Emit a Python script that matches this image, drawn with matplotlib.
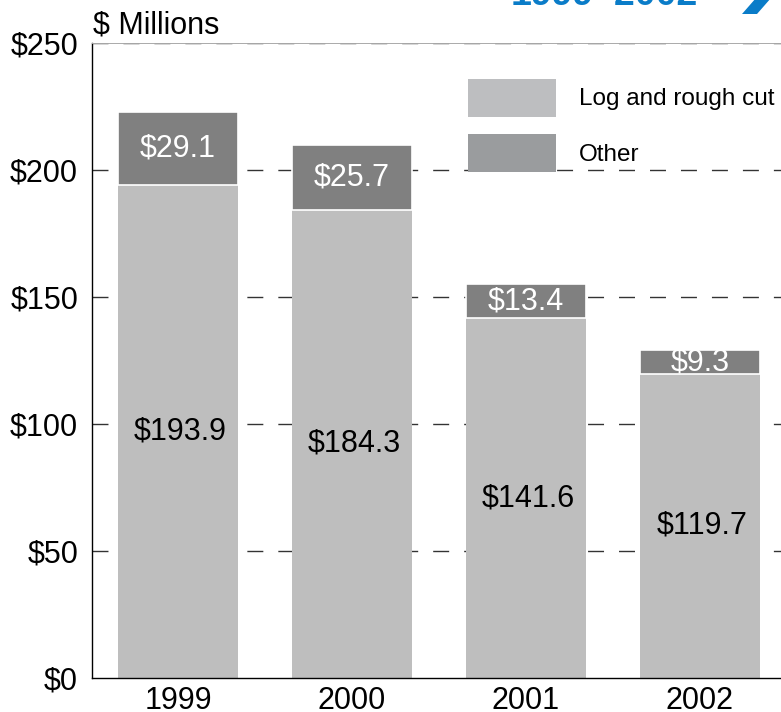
import matplotlib
matplotlib.use("Agg")
import matplotlib.pyplot as plt
from matplotlib.patches import Patch, Polygon

plt.rcParams['font.family'] = ['Liberation Sans', 'DejaVu Sans']

years = ['1999', '2000', '2001', '2002']
log_rough = [193.9, 184.3, 141.6, 119.7]
other = [29.1, 25.7, 13.4, 9.3]
yticks = [0, 50, 100, 150, 200, 250]
ytick_labels = ['$0', '$50', '$100', '$150', '$200', '$250']

W, H = 781, 712
fig = plt.figure(figsize=(W / 100, H / 100), dpi=100)
ax = fig.add_axes([92 / W, 1 - 678 / H, 1 - 92 / W, (678 - 43) / H])

FS = 22
x = list(range(len(years)))
ax.bar(x, log_rough, width=0.69, color='#bebebe', zorder=2)
ax.bar(x, other, width=0.69, bottom=log_rough, color='#808080',
       edgecolor='white', linewidth=1.2, zorder=2)

for i in x:
    ax.text(i + 0.015, log_rough[i] / 2, f'${log_rough[i]:.1f}', ha='center', va='center',
            fontsize=FS, color='black', zorder=3)
    ax.text(i, log_rough[i] + other[i] / 2, f'${other[i]:.1f}', ha='center',
            va='center', fontsize=FS, color='white', zorder=3)

ax.set_xlim(-0.494, 3.466)
ax.set_ylim(0, 250)
ax.set_yticks(yticks)
ax.set_yticklabels(ytick_labels)
ax.set_xticks(x)
ax.set_xticklabels(years)
ax.tick_params(axis='both', length=0, labelsize=FS, colors='black')
ax.tick_params(axis='y', pad=10)
ax.tick_params(axis='x', pad=5.5)

for yv in yticks[1:]:
    ax.axhline(yv, color='#333333', lw=1.0, linestyle=(0, (11.5, 10.8)), zorder=1)

ax.spines['right'].set_visible(False)
ax.spines['top'].set_color('#aaaaaa')
ax.spines['top'].set_linewidth(0.7)
ax.spines['left'].set_linewidth(1.0)
ax.spines['bottom'].set_linewidth(1.0)

handles = [Patch(facecolor='#bdbec0', label='Log and rough cut'),
           Patch(facecolor='#9a9c9e', label='Other')]
leg = fig.legend(handles=handles, loc='upper left', bbox_to_anchor=(468 / W, 1 - 79 / H),
                 bbox_transform=fig.transFigure,
                 frameon=False, fontsize=17.5, handlelength=3.6, handleheight=2.0,
                 handletextpad=0.95, labelspacing=0.72, borderaxespad=0, borderpad=0)

fig.text(93 / W, 1 - 33 / H, '$ Millions', fontsize=FS, ha='left', va='baseline')
fig.text(698 / W, 1 - 5 / H, '1999\u20132002', fontsize=27, fontweight='bold',
         color='#0a7cc8', ha='right', va='baseline')
chev = Polygon([(742 / W, 1 - 14 / H), (757 / W, 1 - 14 / H), (771 / W, 1 + 2 / H), (756 / W, 1 + 2 / H)],
               closed=True, transform=fig.transFigure, facecolor='#0a7cc8', edgecolor='none')
fig.patches.append(chev)

fig.savefig('out.png', dpi=100)
